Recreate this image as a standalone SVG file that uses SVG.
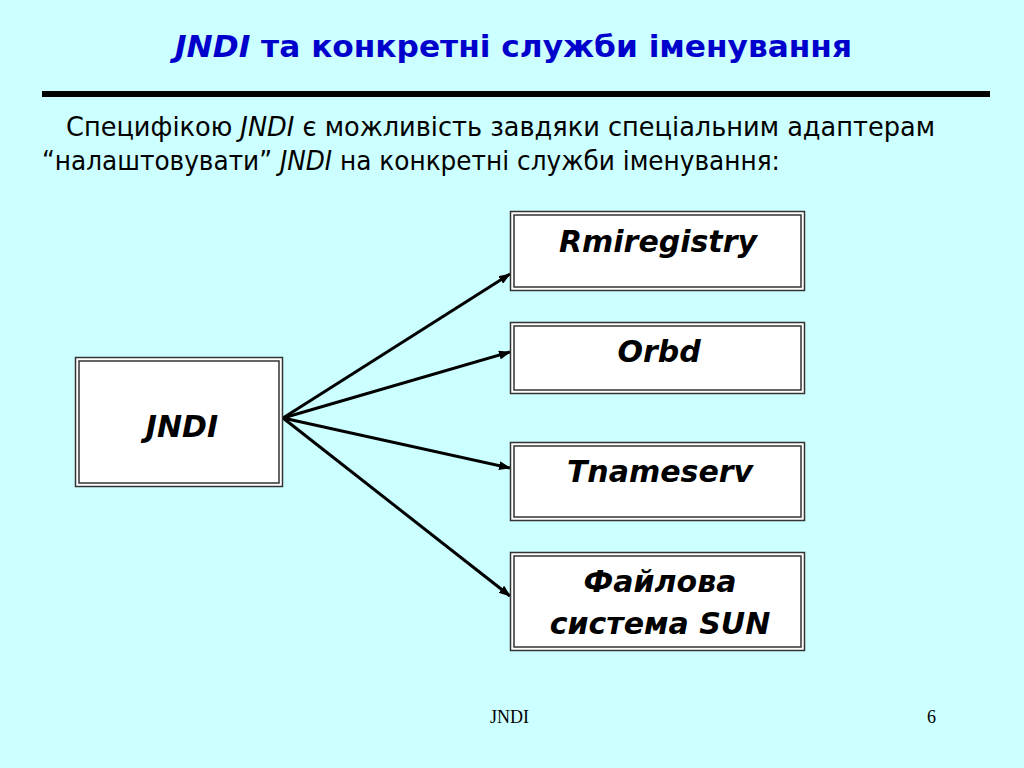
<svg xmlns="http://www.w3.org/2000/svg" width="1024" height="768" viewBox="0 0 1024 768">
<defs>
<marker id="arr" markerWidth="12" markerHeight="9" refX="11" refY="4.5" orient="auto" markerUnits="userSpaceOnUse">
<path d="M0,0 L12,4.5 L0,9 Z" fill="#000"/>
</marker>
</defs>
<style>
.outer{fill:#fff;stroke:#333;stroke-width:1.5}
.inner{fill:none;stroke:#333;stroke-width:1.5}
.nt{font-family:"DejaVu Sans",Verdana,sans-serif;font-weight:bold;font-style:italic;font-size:30px;fill:#000;text-anchor:middle}
.body{font-family:"DejaVu Sans Condensed","DejaVu Sans","Liberation Sans",sans-serif;font-size:27px;fill:#000}
.conn line{stroke:#000;stroke-width:3;marker-end:url(#arr)}
.foot{font-family:"Liberation Serif","Times New Roman",serif;font-size:18px;fill:#000}
</style>
<rect width="1024" height="768" fill="#CCFFFF"/>
<text x="175" y="57" textLength="677" lengthAdjust="spacingAndGlyphs" font-family="'DejaVu Sans Condensed','DejaVu Sans','Liberation Sans',sans-serif" font-weight="bold" font-size="30" fill="#0000CC"><tspan font-style="italic">JNDI</tspan> та конкретні служби іменування</text>
<rect x="42" y="91" width="948" height="6" fill="#000"/>
<text class="body" x="66" y="136" textLength="869" lengthAdjust="spacingAndGlyphs">Специфікою <tspan font-style="italic">JNDI</tspan> є можливість завдяки спеціальним адаптерам</text>
<text class="body" x="42" y="170" textLength="738" lengthAdjust="spacingAndGlyphs">“налаштовувати” <tspan font-style="italic">JNDI</tspan> на конкретні служби іменування:</text>
<g id="connectors" class="conn">
<line x1="283" y1="418" x2="510" y2="274"/>
<line x1="283" y1="418" x2="510" y2="352"/>
<line x1="283" y1="418" x2="510" y2="468"/>
<line x1="283" y1="418" x2="510" y2="596"/>
</g>
<g id="node-jndi">
<rect class="outer" x="75.5" y="357.5" width="207" height="129"/>
<rect class="inner" x="79" y="361" width="200" height="122"/>
<text class="nt" x="182" y="437">JNDI</text>
</g>
<g id="node-rmiregistry">
<rect class="outer" x="510.5" y="211.5" width="294" height="79"/>
<rect class="inner" x="514" y="215" width="287" height="72"/>
<text class="nt" x="658" y="252">Rmiregistry</text>
</g>
<g id="node-orbd">
<rect class="outer" x="510.5" y="322.5" width="294" height="71"/>
<rect class="inner" x="514" y="326" width="287" height="64"/>
<text class="nt" x="659" y="362">Orbd</text>
</g>
<g id="node-tnameserv">
<rect class="outer" x="510.5" y="442.5" width="294" height="78"/>
<rect class="inner" x="514" y="446" width="287" height="71"/>
<text class="nt" x="660" y="482">Tnameserv</text>
</g>
<g id="node-fs">
<rect class="outer" x="510.5" y="552.5" width="294" height="98"/>
<rect class="inner" x="514" y="556" width="287" height="91"/>
<text class="nt" x="660" y="592">Файлова</text>
<text class="nt" x="660" y="634">система SUN</text>
</g>
<text class="foot" x="490" y="723">JNDI</text>
<text class="foot" x="927" y="723">6</text>
</svg>
